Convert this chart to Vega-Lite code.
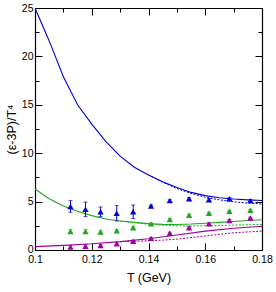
{
  "$schema": "https://vega.github.io/schema/vega-lite/v6.json",
  "width": 227,
  "height": 242,
  "autosize": "none",
  "padding": {"left": 35, "top": 8, "right": 14, "bottom": 42},
  "background": "white",
  "config": {
    "font": "Liberation Sans",
    "view": {"stroke": null},
    "axis": {"domainColor": "black", "tickColor": "black", "labelColor": "black", "titleColor": "black", "grid": false, "labelFont": "Liberation Sans", "titleFont": "Liberation Sans", "titleFontWeight": "normal", "labelFontSize": 10.5, "titleFontSize": 12.5, "domainWidth": 1.2, "tickWidth": 1}
  },
  "datasets": {
    "curves": [
      {"s": "blue", "st": "solid", "T": 0.100, "v": 25.0},
      {"s": "blue", "st": "solid", "T": 0.105, "v": 21.6},
      {"s": "blue", "st": "solid", "T": 0.110, "v": 17.9},
      {"s": "blue", "st": "solid", "T": 0.115, "v": 15.0},
      {"s": "blue", "st": "solid", "T": 0.120, "v": 13.0},
      {"s": "blue", "st": "solid", "T": 0.125, "v": 11.2},
      {"s": "blue", "st": "solid", "T": 0.130, "v": 9.7},
      {"s": "blue", "st": "solid", "T": 0.135, "v": 8.55},
      {"s": "blue", "st": "solid", "T": 0.140, "v": 7.75},
      {"s": "blue", "st": "solid", "T": 0.145, "v": 7.05},
      {"s": "blue", "st": "solid", "T": 0.150, "v": 6.45},
      {"s": "blue", "st": "solid", "T": 0.155, "v": 5.95},
      {"s": "blue", "st": "solid", "T": 0.160, "v": 5.62},
      {"s": "blue", "st": "solid", "T": 0.165, "v": 5.4},
      {"s": "blue", "st": "solid", "T": 0.170, "v": 5.27},
      {"s": "blue", "st": "solid", "T": 0.175, "v": 5.18},
      {"s": "blue", "st": "solid", "T": 0.180, "v": 5.12},
      {"s": "blue", "st": "dash", "T": 0.140, "v": 7.75},
      {"s": "blue", "st": "dash", "T": 0.145, "v": 7.0},
      {"s": "blue", "st": "dash", "T": 0.150, "v": 6.35},
      {"s": "blue", "st": "dash", "T": 0.155, "v": 5.85},
      {"s": "blue", "st": "dash", "T": 0.160, "v": 5.45},
      {"s": "blue", "st": "dash", "T": 0.165, "v": 5.18},
      {"s": "blue", "st": "dash", "T": 0.170, "v": 4.98},
      {"s": "blue", "st": "dash", "T": 0.175, "v": 4.85},
      {"s": "blue", "st": "dash", "T": 0.180, "v": 4.75},
      {"s": "green", "st": "solid", "T": 0.100, "v": 6.3},
      {"s": "green", "st": "solid", "T": 0.105, "v": 5.3},
      {"s": "green", "st": "solid", "T": 0.110, "v": 4.55},
      {"s": "green", "st": "solid", "T": 0.115, "v": 4.0},
      {"s": "green", "st": "solid", "T": 0.120, "v": 3.55},
      {"s": "green", "st": "solid", "T": 0.125, "v": 3.2},
      {"s": "green", "st": "solid", "T": 0.130, "v": 3.0},
      {"s": "green", "st": "solid", "T": 0.135, "v": 2.85},
      {"s": "green", "st": "solid", "T": 0.140, "v": 2.72},
      {"s": "green", "st": "solid", "T": 0.145, "v": 2.65},
      {"s": "green", "st": "solid", "T": 0.150, "v": 2.63},
      {"s": "green", "st": "solid", "T": 0.155, "v": 2.68},
      {"s": "green", "st": "solid", "T": 0.160, "v": 2.77},
      {"s": "green", "st": "solid", "T": 0.165, "v": 2.85},
      {"s": "green", "st": "solid", "T": 0.170, "v": 2.95},
      {"s": "green", "st": "solid", "T": 0.175, "v": 3.05},
      {"s": "green", "st": "solid", "T": 0.180, "v": 3.12},
      {"s": "green", "st": "dash", "T": 0.130, "v": 3.0},
      {"s": "green", "st": "dash", "T": 0.135, "v": 2.83},
      {"s": "green", "st": "dash", "T": 0.140, "v": 2.66},
      {"s": "green", "st": "dash", "T": 0.145, "v": 2.56},
      {"s": "green", "st": "dash", "T": 0.150, "v": 2.5},
      {"s": "green", "st": "dash", "T": 0.155, "v": 2.48},
      {"s": "green", "st": "dash", "T": 0.160, "v": 2.5},
      {"s": "green", "st": "dash", "T": 0.165, "v": 2.53},
      {"s": "green", "st": "dash", "T": 0.170, "v": 2.57},
      {"s": "green", "st": "dash", "T": 0.175, "v": 2.6},
      {"s": "green", "st": "dash", "T": 0.180, "v": 2.64},
      {"s": "magenta", "st": "solid", "T": 0.100, "v": 0.35},
      {"s": "magenta", "st": "solid", "T": 0.110, "v": 0.48},
      {"s": "magenta", "st": "solid", "T": 0.120, "v": 0.64},
      {"s": "magenta", "st": "solid", "T": 0.130, "v": 0.87},
      {"s": "magenta", "st": "solid", "T": 0.140, "v": 1.17},
      {"s": "magenta", "st": "solid", "T": 0.150, "v": 1.55},
      {"s": "magenta", "st": "solid", "T": 0.160, "v": 1.95},
      {"s": "magenta", "st": "solid", "T": 0.170, "v": 2.25},
      {"s": "magenta", "st": "solid", "T": 0.180, "v": 2.45},
      {"s": "magenta", "st": "dash", "T": 0.130, "v": 0.85},
      {"s": "magenta", "st": "dash", "T": 0.135, "v": 0.9},
      {"s": "magenta", "st": "dash", "T": 0.140, "v": 0.95},
      {"s": "magenta", "st": "dash", "T": 0.145, "v": 1.02},
      {"s": "magenta", "st": "dash", "T": 0.150, "v": 1.12},
      {"s": "magenta", "st": "dash", "T": 0.160, "v": 1.45},
      {"s": "magenta", "st": "dash", "T": 0.170, "v": 1.78},
      {"s": "magenta", "st": "dash", "T": 0.180, "v": 1.95}
    ],
    "points": [
      {"s": "blue", "T": 0.1125, "v": 4.5, "e": 0.6},
      {"s": "blue", "T": 0.1178, "v": 4.2, "e": 0.75},
      {"s": "blue", "T": 0.1231, "v": 3.95, "e": 0.5},
      {"s": "blue", "T": 0.1288, "v": 3.8, "e": 0.8},
      {"s": "blue", "T": 0.1346, "v": 3.95, "e": 0.7},
      {"s": "blue", "T": 0.1409, "v": 4.55, "e": 0.1},
      {"s": "blue", "T": 0.1475, "v": 5.1, "e": 0.1},
      {"s": "blue", "T": 0.1543, "v": 5.3, "e": 0.1},
      {"s": "blue", "T": 0.1613, "v": 5.2, "e": 0.1},
      {"s": "blue", "T": 0.1685, "v": 5.3, "e": 0.1},
      {"s": "blue", "T": 0.1759, "v": 5.1, "e": 0.1},
      {"s": "green", "T": 0.1125, "v": 1.9, "e": 0.2},
      {"s": "green", "T": 0.1178, "v": 1.9, "e": 0.2},
      {"s": "green", "T": 0.1231, "v": 1.85, "e": 0.15},
      {"s": "green", "T": 0.1288, "v": 2.0, "e": 0.1},
      {"s": "green", "T": 0.1346, "v": 2.3, "e": 0.1},
      {"s": "green", "T": 0.1409, "v": 2.7, "e": 0.1},
      {"s": "green", "T": 0.1475, "v": 3.15, "e": 0.1},
      {"s": "green", "T": 0.1543, "v": 3.6, "e": 0.1},
      {"s": "green", "T": 0.1613, "v": 3.8, "e": 0.1},
      {"s": "green", "T": 0.1685, "v": 4.0, "e": 0.1},
      {"s": "green", "T": 0.1759, "v": 4.1, "e": 0.1},
      {"s": "magenta", "T": 0.1125, "v": 0.32, "e": 0.15},
      {"s": "magenta", "T": 0.1178, "v": 0.38, "e": 0.15},
      {"s": "magenta", "T": 0.1231, "v": 0.47, "e": 0.1},
      {"s": "magenta", "T": 0.1288, "v": 0.65, "e": 0.1},
      {"s": "magenta", "T": 0.1346, "v": 0.9, "e": 0.1},
      {"s": "magenta", "T": 0.1409, "v": 1.2, "e": 0.1},
      {"s": "magenta", "T": 0.1475, "v": 1.74, "e": 0.1},
      {"s": "magenta", "T": 0.1543, "v": 2.3, "e": 0.1},
      {"s": "magenta", "T": 0.1613, "v": 2.7, "e": 0.1},
      {"s": "magenta", "T": 0.1685, "v": 3.05, "e": 0.1},
      {"s": "magenta", "T": 0.1759, "v": 3.3, "e": 0.1}
    ]
  },
  "resolve": {"axis": {"x": "independent", "y": "independent"}},
  "layer": [
    {
      "data": {"name": "curves"},
      "transform": [{"filter": "datum.st == 'dash'"}],
      "mark": {"type": "line", "strokeWidth": 1, "strokeDash": [2, 1.5], "clip": true},
      "encoding": {
        "x": {"field": "T", "type": "quantitative", "scale": {"domain": [0.1, 0.18], "nice": false, "zero": false},
          "axis": {"orient": "bottom", "title": "T (GeV)", "values": [0.1, 0.11, 0.12, 0.13, 0.14, 0.15, 0.16, 0.17, 0.18],
            "labelExpr": "round(datum.value*100)%2==0 ? format(datum.value, '.2~f') : ''",
            "tickSize": {"condition": {"test": "round(datum.value*100)%2==0", "value": -7}, "value": -4},
            "labelPadding": 11, "titlePadding": 4, "labelFlush": false, "labelOverlap": false}},
        "y": {"field": "v", "type": "quantitative", "scale": {"domain": [0, 25], "nice": false, "zero": true},
          "axis": {"orient": "left", "title": "(ε-3P)/T⁴", "values": [0, 2.5, 5, 7.5, 10, 12.5, 15, 17.5, 20, 22.5, 25],
            "labelExpr": "datum.value % 5 == 0 ? datum.value : ''",
            "labelBaseline": {"condition": {"test": "datum.value == 0", "value": "alphabetic"}, "value": "middle"},
            "labelOffset": {"condition": {"test": "datum.value == 0", "value": 2}, "value": 0},
            "tickSize": {"condition": {"test": "datum.value % 5 == 0", "value": -7}, "value": -4},
            "labelPadding": 9, "titlePadding": 3, "labelFlush": false, "labelOverlap": false}},
        "color": {"field": "s", "type": "nominal", "legend": null, "scale": {"domain": ["blue", "green", "magenta"], "range": ["#0000d8", "#20a820", "#a000a0"]}},
        "detail": {"field": "st"}
      }
    },
    {
      "data": {"name": "curves"},
      "transform": [{"filter": "datum.st == 'solid'"}],
      "mark": {"type": "line", "strokeWidth": 1.1, "clip": true},
      "encoding": {
        "x": {"field": "T", "type": "quantitative", "axis": null},
        "y": {"field": "v", "type": "quantitative", "axis": null},
        "color": {"field": "s", "type": "nominal", "legend": null}
      }
    },
    {
      "data": {"name": "points"},
      "mark": {"type": "errorbar", "ticks": {"size": 4}, "thickness": 1},
      "encoding": {
        "x": {"field": "T", "type": "quantitative", "axis": null},
        "y": {"field": "v", "type": "quantitative", "axis": null},
        "yError": {"field": "e"},
        "color": {"field": "s", "type": "nominal", "legend": null}
      }
    },
    {
      "data": {"name": "points"},
      "mark": {"type": "point", "shape": "triangle-up", "filled": true, "opacity": 1, "size": 40},
      "encoding": {
        "x": {"field": "T", "type": "quantitative",
          "axis": {"orient": "top", "title": null, "labels": false, "values": [0.1, 0.11, 0.12, 0.13, 0.14, 0.15, 0.16, 0.17, 0.18],
            "tickSize": {"condition": {"test": "round(datum.value*100)%2==0", "value": -7}, "value": -4}}},
        "y": {"field": "v", "type": "quantitative",
          "axis": {"orient": "right", "title": null, "labels": false, "values": [0, 2.5, 5, 7.5, 10, 12.5, 15, 17.5, 20, 22.5, 25],
            "tickSize": {"condition": {"test": "datum.value % 5 == 0", "value": -7}, "value": -4}}},
        "color": {"field": "s", "type": "nominal", "legend": null}
      }
    }
  ]
}
